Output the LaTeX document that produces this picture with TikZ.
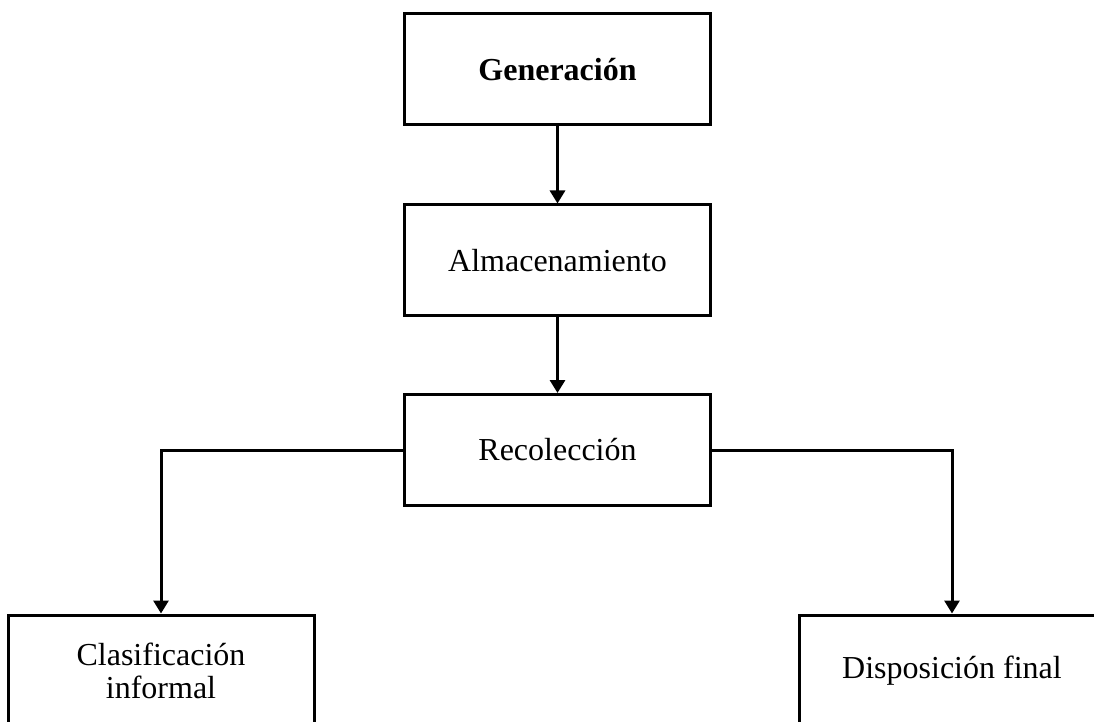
\documentclass[tikz,border=0pt]{standalone}
\usepackage{fontspec}
\setmainfont{Liberation Serif}
\usetikzlibrary{arrows.meta}

\tikzset{
  caja/.style={draw, line width=3pt, minimum width=306pt, minimum height=111pt,
    inner sep=0pt, align=center, font=\fontsize{32}{33}\selectfont},
  flecha/.style={line width=3pt, -{Triangle[length=13pt,width=15pt]}}
}

\begin{document}
\begin{tikzpicture}[x=1pt,y=1pt]
        \clip (0,0) rectangle (1094,721);
        \node[caja] (gen) at (557.5,651.5) {\textbf{Generación}};
        \node[caja] (alm) at (557.5,460.5) {Almacenamiento};
        \node[caja] (rec) at (557.5,271) {Recolección};
        \node[caja] (cla) at (161,50.5) {Clasificación\\informal};
        \node[caja] (dis) at (952,50.5) {Disposición final};
        \draw[flecha] (gen) -- (alm);
        \draw[flecha] (alm) -- (rec);
        \draw[flecha] (rec.west) -| (cla.north);
        \draw[flecha] (rec.east) -| (dis.north);
\end{tikzpicture}
\end{document}
